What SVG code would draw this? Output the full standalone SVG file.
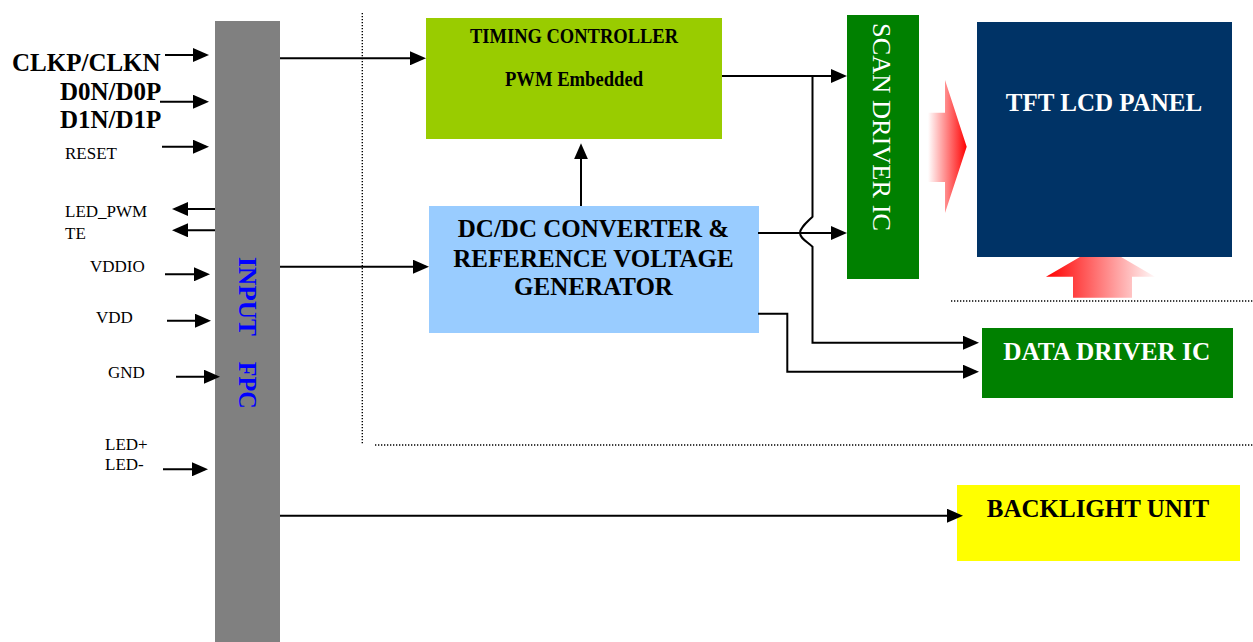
<svg xmlns="http://www.w3.org/2000/svg" width="1253" height="642" viewBox="0 0 1253 642">
  <style>
    .lbl { font-family: "Liberation Serif", "Times New Roman", serif; fill: #000; }
    .big { font-size: 25px; font-weight: bold; }
    .sm { font-size: 17px; }
    .wire { fill: none; stroke: #000; stroke-width: 2; }
    .arr { marker-end: url(#head); }
    .dot { fill: none; stroke: #000; stroke-width: 1.4; stroke-dasharray: 1.3 1.7; }
  </style>
  <defs>
    <marker id="head" markerUnits="userSpaceOnUse" markerWidth="16" markerHeight="14" refX="13" refY="7" orient="auto">
      <path d="M0,0 L16,7 L0,14 z" fill="#000"/>
    </marker>
    <linearGradient id="gradRight" gradientUnits="userSpaceOnUse" x1="928" y1="0" x2="967" y2="0">
      <stop offset="0" stop-color="#ffffff"/>
      <stop offset="1" stop-color="#ff0000"/>
    </linearGradient>
    <linearGradient id="gradUp" gradientUnits="userSpaceOnUse" x1="1046" y1="0" x2="1158" y2="0">
      <stop offset="0" stop-color="#ff0000"/>
      <stop offset="1" stop-color="#ffffff"/>
    </linearGradient>
  </defs>

  <rect width="1253" height="642" fill="#fff"/>

  <!-- boundary of the module (dotted) -->
  <g id="boundary">
    <line class="dot" x1="362.3" y1="13" x2="362.3" y2="444"/>
    <line class="dot" x1="375" y1="445" x2="1253" y2="445"/>
    <line class="dot" x1="951" y1="301" x2="1253" y2="301"/>
  </g>

  <!-- signal names on the FPC side -->
  <g id="pin-labels">
    <text class="lbl big" x="12" y="71">CLKP/CLKN</text>
    <text class="lbl big" x="60" y="100">D0N/D0P</text>
    <text class="lbl big" x="60" y="128">D1N/D1P</text>
    <text class="lbl sm" x="65" y="159">RESET</text>
    <text class="lbl sm" x="65" y="217">LED_PWM</text>
    <text class="lbl sm" x="65" y="239">TE</text>
    <text class="lbl sm" x="90" y="272">VDDIO</text>
    <text class="lbl sm" x="96" y="323">VDD</text>
    <text class="lbl sm" x="108" y="378">GND</text>
    <text class="lbl sm" x="105" y="450">LED+</text>
    <text class="lbl sm" x="105" y="470">LED-</text>
  </g>

  <g id="input-fpc">
    <rect x="215" y="21" width="65" height="621" fill="#808080"/>
    <g transform="translate(239,257) rotate(90)">
      <text class="lbl big" x="0" y="0" style="fill:#0000ff" textLength="79" lengthAdjust="spacingAndGlyphs">INPUT</text>
      <text class="lbl big" x="104.7" y="0" style="fill:#0000ff" textLength="47" lengthAdjust="spacingAndGlyphs">FPC</text>
    </g>
  </g>

  <g id="timing-controller">
    <rect x="426" y="18" width="296" height="121" fill="#99cc00"/>
    <text class="lbl" x="574" y="43" text-anchor="middle" font-size="21" font-weight="bold" textLength="208" lengthAdjust="spacingAndGlyphs">TIMING CONTROLLER</text>
    <text class="lbl" x="574" y="86" text-anchor="middle" font-size="20" font-weight="bold" textLength="138" lengthAdjust="spacingAndGlyphs">PWM Embedded</text>
  </g>

  <g id="dcdc-converter">
    <rect x="429" y="206" width="330" height="127" fill="#99ccff"/>
    <text class="lbl big" x="593.5" y="237" text-anchor="middle">DC/DC CONVERTER &amp;</text>
    <text class="lbl big" x="593.5" y="266.7" text-anchor="middle">REFERENCE VOLTAGE</text>
    <text class="lbl big" x="593.5" y="295.3" text-anchor="middle">GENERATOR</text>
  </g>

  <g id="scan-driver">
    <rect x="847" y="15" width="72" height="264" fill="#008000"/>
    <g transform="translate(873,23) rotate(90)">
      <text class="lbl" x="0" y="0" font-size="26" style="fill:#fff" textLength="208" lengthAdjust="spacingAndGlyphs">SCAN DRIVER IC</text>
    </g>
  </g>

  <!-- broad gradient arrows feeding the panel -->
  <g id="scan-to-panel">
    <path d="M927,112.7 H945 V80 L966.7,146.7 L945,213 V182 H927 z" fill="url(#gradRight)"/>
  </g>
  <g id="backlight-to-panel">
    <path d="M1073,297.7 V276.7 H1046 L1100.5,245 L1155,276.7 H1132 V297.7 z" fill="url(#gradUp)"/>
  </g>

  <!-- drawn after the upward arrow so it hides the arrow's tip -->
  <g id="tft-panel">
    <rect x="977" y="22" width="255" height="235" fill="#003366"/>
    <text class="lbl big" x="1104" y="111" text-anchor="middle" style="fill:#fff">TFT LCD PANEL</text>
  </g>

  <g id="data-driver">
    <rect x="982" y="328" width="251" height="70" fill="#008000"/>
    <text class="lbl" x="1106.7" y="360" text-anchor="middle" font-size="26" font-weight="bold" style="fill:#fff" textLength="207" lengthAdjust="spacingAndGlyphs">DATA DRIVER IC</text>
  </g>

  <g id="backlight-unit">
    <rect x="957" y="485" width="283" height="76" fill="#ffff00"/>
    <text class="lbl big" x="1098" y="517" text-anchor="middle">BACKLIGHT UNIT</text>
  </g>

  <g id="connectors">
    <!-- pins into / out of the FPC -->
    <line class="wire arr" x1="165" y1="55" x2="206" y2="55"/>
    <line class="wire arr" x1="160" y1="101.7" x2="206" y2="101.7"/>
    <line class="wire arr" x1="162" y1="146.7" x2="206" y2="146.7"/>
    <line class="wire arr" x1="215" y1="209" x2="175" y2="209"/>
    <line class="wire arr" x1="215" y1="230.3" x2="175" y2="230.3"/>
    <line class="wire arr" x1="165" y1="274.3" x2="207" y2="274.3"/>
    <line class="wire arr" x1="167" y1="320.7" x2="208" y2="320.7"/>
    <line class="wire arr" x1="176" y1="376.7" x2="217" y2="376.7"/>
    <line class="wire arr" x1="163" y1="469.3" x2="205" y2="469.3"/>

    <!-- FPC to blocks -->
    <line class="wire arr" x1="280" y1="58.3" x2="423" y2="58.3"/>
    <line class="wire arr" x1="280" y1="266.7" x2="426" y2="266.7"/>
    <line class="wire arr" x1="280" y1="515.7" x2="960" y2="515.7"/>

    <!-- DC/DC to timing controller -->
    <line class="wire arr" x1="581" y1="206" x2="581" y2="146.3"/>

    <!-- timing controller to scan and data drivers (hops over the DC/DC line) -->
    <line class="wire arr" x1="722" y1="76" x2="844" y2="76"/>
    <path class="wire arr" d="M812.5,76 V216.7 C806,223 800,228 800,233 C800,238 806,241 812.5,246.7 V342.7 H976"/>

    <!-- DC/DC to scan and data drivers -->
    <line class="wire arr" x1="758" y1="233" x2="844" y2="233"/>
    <path class="wire arr" d="M758,313.7 H787.3 V371.7 H976"/>
  </g>
</svg>
